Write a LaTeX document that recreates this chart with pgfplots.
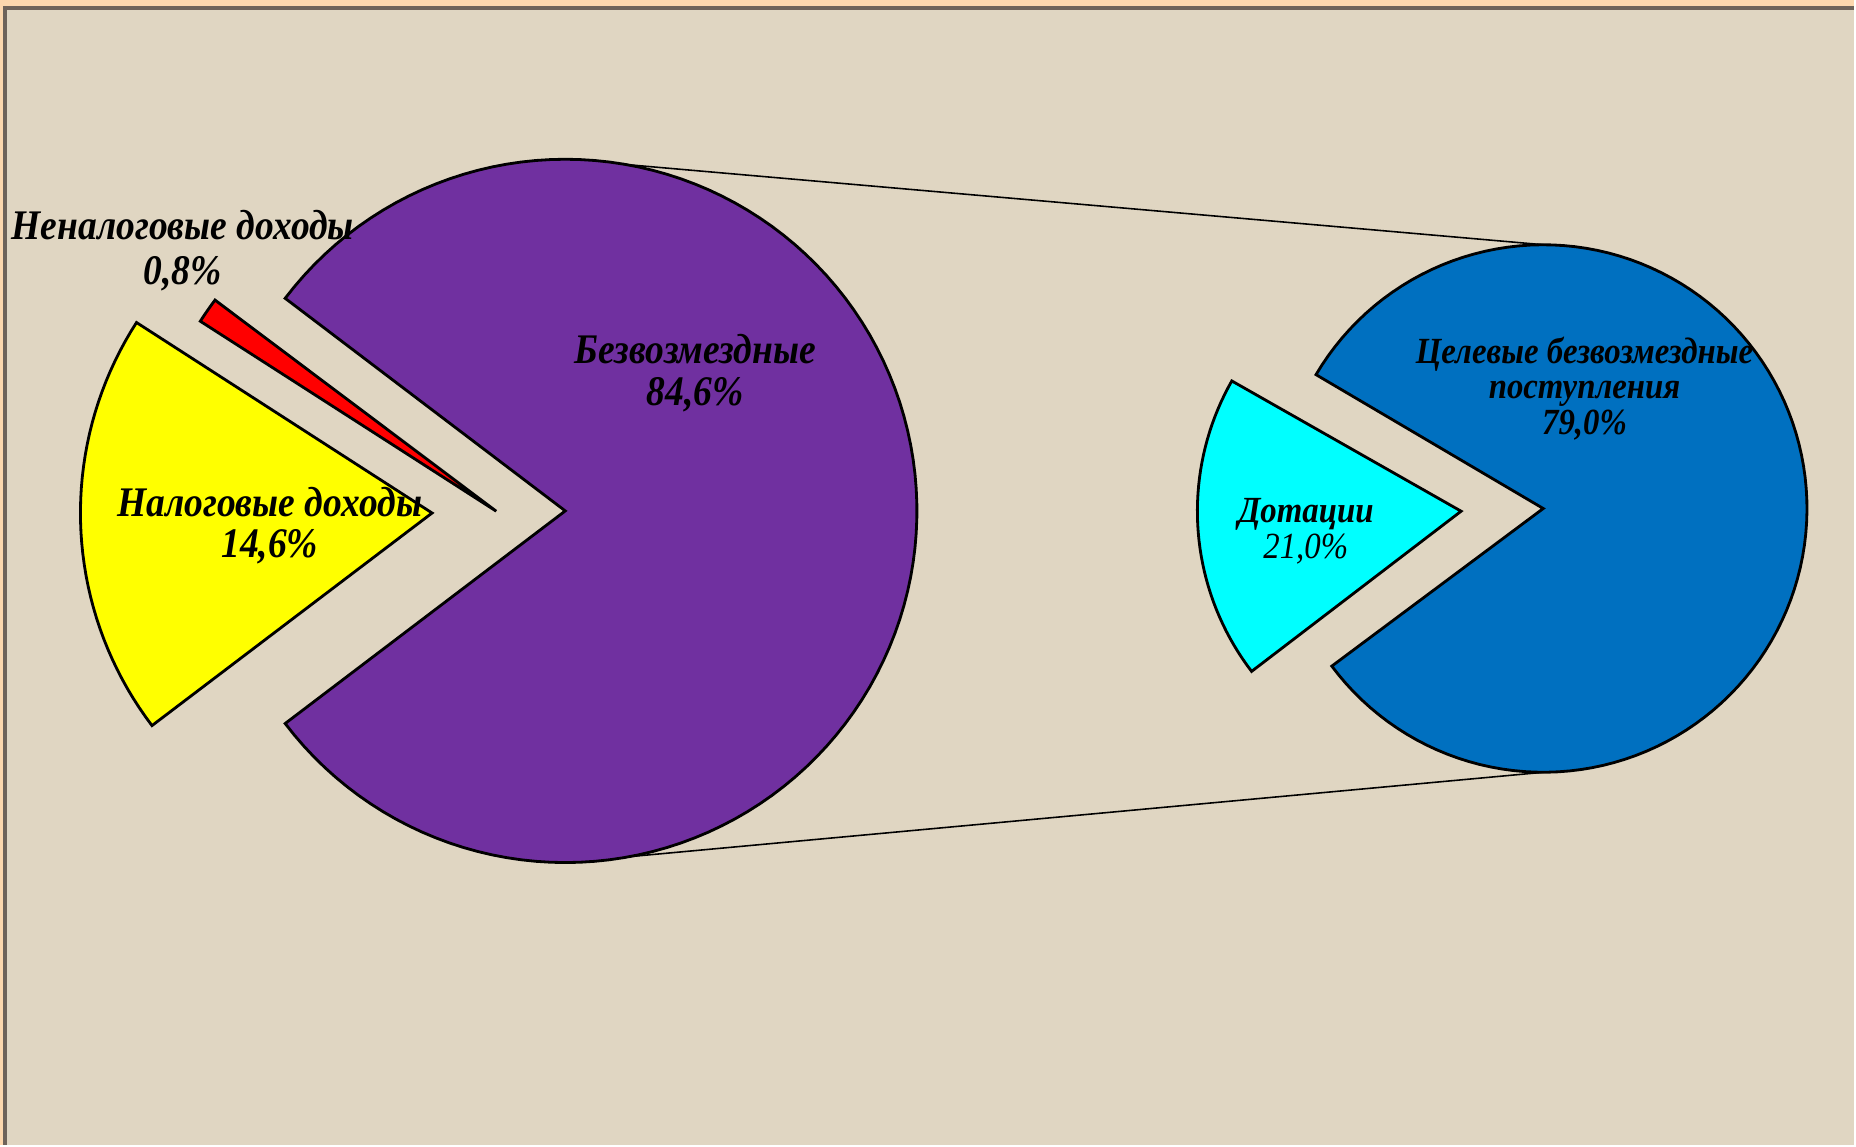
\documentclass[border=0pt]{standalone}
\usepackage{pgfplots}
\pgfplotsset{compat=1.18}
\usepackage{fontspec}
\setmainfont{Liberation Serif}
\newfontfamily\labfont{Liberation Serif}[FakeStretch=0.89]
\definecolor{peach}{RGB}{252,216,174}
\definecolor{linen}{RGB}{224,214,194}
\definecolor{frame}{RGB}{110,100,90}
\definecolor{cpurple}{RGB}{112,48,160}
\definecolor{cblue}{RGB}{0,112,192}
\definecolor{cyellow}{RGB}{255,255,0}
\definecolor{cred}{RGB}{255,0,0}
\definecolor{ccyan}{RGB}{0,255,255}
\begin{document}
\begin{tikzpicture}
\begin{axis}[
  at={(0,0)}, anchor=origin,
  scale only axis, width=18.56cm, height=11.46cm,
  xmin=0, xmax=1856, ymin=0, ymax=1146,
  hide axis, clip=false,
]
% background
\fill[peach] (axis cs:0,0) rectangle (axis cs:1856,1146);
\fill[linen] (axis cs:5,0) rectangle (axis cs:1856,1138);
\draw[frame, line width=1pt] (axis cs:5,0) -- (axis cs:5,1138) -- (axis cs:1856,1138);
% connector lines
\addplot[black, line width=0.45pt] coordinates {(566,986.6) (1545,901)};
\addplot[black, line width=0.45pt] coordinates {(566,282.6) (1545,373)};
% main pie
\addplot[fill=cpurple, draw=black, line width=0.8pt, domain=-142.8:142.8, samples=120]
  ({565.8+352*cos(x)},{634.6+352*sin(x)}) -- (axis cs:565.8,634.6) -- cycle;
\addplot[fill=cyellow, draw=black, line width=0.8pt, domain=147.2:217.2, samples=40]
  ({432.5+352*cos(x)},{632.5+352*sin(x)}) -- (axis cs:432.5,632.5) -- cycle;
\addplot[fill=cred, draw=black, line width=0.8pt, domain=143.1:147.3, samples=5]
  ({496.7+352*cos(x)},{634.3+352*sin(x)}) -- (axis cs:496.7,634.3) -- cycle;
% second pie
\addplot[fill=cblue, draw=black, line width=0.8pt, domain=-143.3:149.5, samples=120]
  ({1544.7+264*cos(x)},{637+264*sin(x)}) -- (axis cs:1544.7,637) -- cycle;
\addplot[fill=ccyan, draw=black, line width=0.8pt, domain=150.4:217.4, samples=40]
  ({1462.5+264*cos(x)},{634.3+264*sin(x)}) -- (axis cs:1462.5,634.3) -- cycle;
% labels
\node[align=center, font=\labfont\fontsize{12}{12.8}\selectfont\bfseries\itshape] at (axis cs:183,895.5) {Неналоговые доходы\\0,8\%};
\node[align=center, font=\labfont\fontsize{12}{11.8}\selectfont\bfseries\itshape] at (axis cs:696,772.6) {Безвозмездные\\84,6\%};
\node[align=center, font=\labfont\fontsize{12}{11.8}\selectfont\bfseries\itshape] at (axis cs:270,620) {Налоговые доходы\\14,6\%};
\node[align=center, font=\labfont\fontsize{10.5}{10.2}\selectfont\bfseries\itshape] at (axis cs:1586,757) {Целевые безвозмездные\\поступления\\79,0\%};
\node[align=center, font=\labfont\fontsize{10.5}{10.2}\selectfont\itshape] at (axis cs:1307,614) {\textbf{Дотации}\\21,0\%};
\end{axis}
\end{tikzpicture}
\end{document}
